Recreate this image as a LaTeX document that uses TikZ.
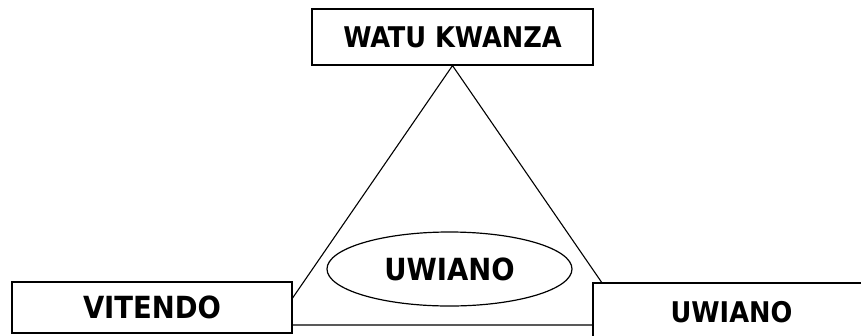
\documentclass[tikz,border=0pt]{standalone}
\usepackage{fontspec}
\setmainfont{DejaVu Sans Condensed}
\usetikzlibrary{shapes.geometric, backgrounds}

\begin{document}
\begin{tikzpicture}[
  x=1pt, y=-1pt,
  every node/.style = {align=center, inner sep=0pt},
  box/.style = {draw, line width=1.2pt, fill=white, shape=rectangle},
  oval/.style = {draw, line width=1.2pt, fill=white, ellipse,
                 minimum width=245pt, minimum height=74pt},
  lbl/.style = {font=\bfseries\fontsize{28.5}{32}\selectfont},
  lblb/.style = {font=\bfseries\fontsize{30.5}{34}\selectfont},
  side/.style = {line width=1.1pt} ]
  \useasboundingbox (0,0) rectangle (861,335);
  \clip (0,0) rectangle (861,335);
  \node [box, lbl, minimum width=281pt, minimum height=56pt] (watu) at (452.5,37) {WATU KWANZA};
  \node [box, lblb, minimum width=280pt, minimum height=51pt] (vitendo) at (152,307.5) {VITENDO};
  \node [box, lbl, minimum width=277pt, minimum height=58pt] (uwianoR) at (731.5,312) {UWIANO};
  \node [oval, lblb] (uwianoC) at (449.5,269) {UWIANO};
  % triangle behind the boxes
  \coordinate (pL) at (274,325);
  \coordinate (pR) at (631,325);
  \begin{scope}[on background layer]
    \draw [side] (watu.south) -- (pL) -- (pR) -- cycle;
  \end{scope}
\end{tikzpicture}
\end{document}
